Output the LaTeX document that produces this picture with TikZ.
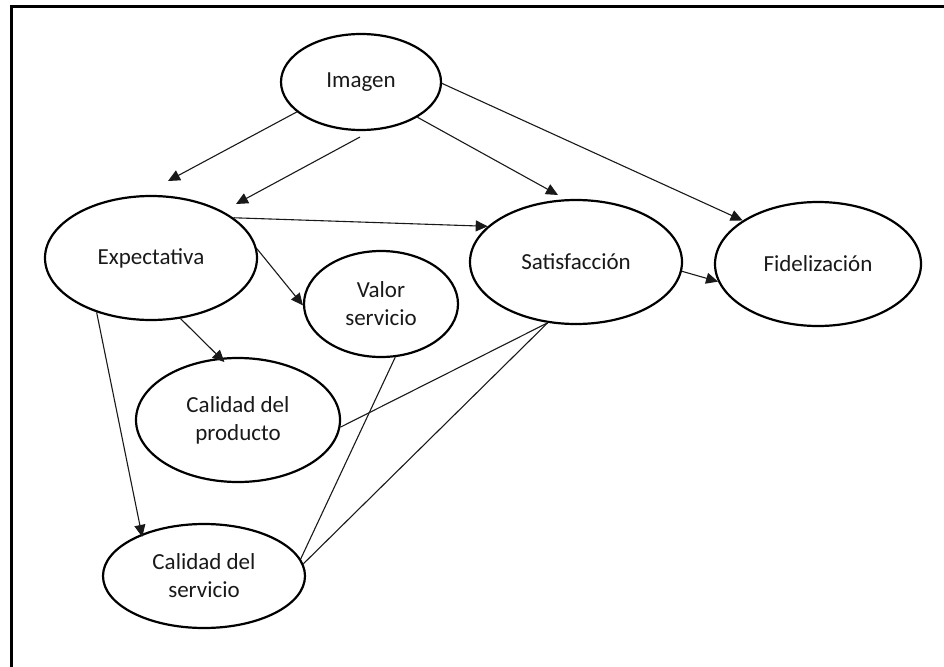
\documentclass[tikz,border=0pt]{standalone}
\usepackage{fontspec}
\setmainfont{Carlito}
\usetikzlibrary{shapes.geometric,arrows.meta}
\begin{document}
\begin{tikzpicture}[x=1pt,y=-1pt,
  ell/.style={draw=black,line width=2.2pt,ellipse,inner sep=0pt,align=center,
    font=\fontsize{23}{28}\selectfont,text=black!90},
  conn/.style={draw=black!90,line width=1.1pt},
  arr/.style={conn,-{Triangle[length=12pt,width=11pt]}}]
\useasboundingbox (0,0) rectangle (944,666);
% frame (top and left edges only)
\draw[line width=2.2pt,line cap=rect] (944,6.5) -- (11.5,6.5) -- (11.5,666);
% nodes
\node[ell,minimum width=160pt,minimum height=96pt] (img) at (361,82) {Imagen};
\node[ell,minimum width=212pt,minimum height=124pt] (exp) at (151,258) {Expectativa};
\node[ell,minimum width=154pt,minimum height=106pt] (val) at (381,304) {Valor\\servicio};
\node[ell,minimum width=212pt,minimum height=124pt] (sat) at (576,262) {Satisfacción};
\node[ell,minimum width=206pt,minimum height=124pt] (fid) at (818,264) {Fidelización};
\node[ell,minimum width=204pt,minimum height=124pt] (prod) at (238,420) {Calidad del\\producto};
\node[ell,minimum width=202pt,minimum height=104pt] (serv) at (204,576) {Calidad del\\servicio};
% free ends
\coordinate (t1) at (168,181);
\coordinate (s2) at (360,137);
\coordinate (t2) at (236,204);
\coordinate (t3) at (558,195);
% arrows
\draw[arr] (img.205) -- (t1);
\draw[arr] (s2) -- (t2);
\draw[arr] (img.328) -- (t3);
\draw[arr] (img.359) -- (fid.150);
\draw[arr] (exp.26) -- (sat.158);
\draw[arr] (exp.5) -- (val.181);
\draw[arr,shorten >=-6pt] (exp.296) -- (prod.106);
\draw[arr,shorten >=-3pt] (exp.225) -- (serv.146);
\draw[arr] (sat.355) -- (fid.190);
% plain lines
\draw[conn] (sat.245) -- (prod.356);
\draw[conn] (sat.245) -- (serv.7);
\draw[conn] (val.285) -- (serv.10);
\end{tikzpicture}
\end{document}
